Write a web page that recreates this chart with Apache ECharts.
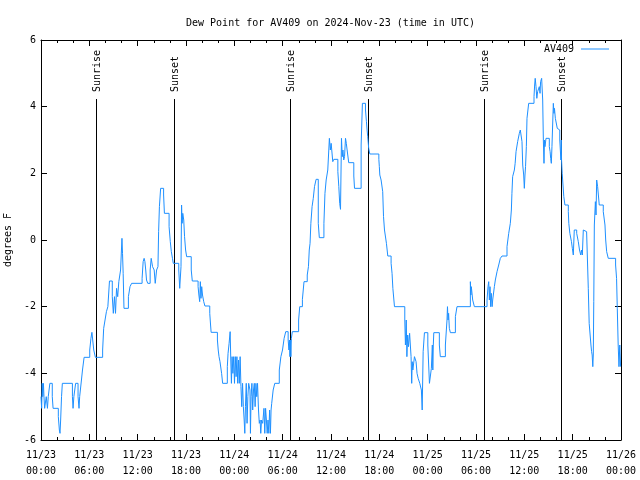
<!DOCTYPE html>
<html><head><meta charset="utf-8">
<script src="https://cdn.jsdelivr.net/npm/echarts/dist/echarts.min.js"></script>
<style>html,body{margin:0;padding:0;background:#fff}#c{width:640px;height:480px}</style>
</head><body><div id="c"></div>
<script>
const titleText = 'Dew Point for AV409 on 2024-Nov-23 (time in UTC)';
const seriesName = 'AV409';
const yAxisName = 'degrees F';
const xTickLabels = ['11/23\n00:00','11/23\n06:00','11/23\n12:00','11/23\n18:00','11/24\n00:00','11/24\n06:00','11/24\n12:00','11/24\n18:00','11/25\n00:00','11/25\n06:00','11/25\n12:00','11/25\n18:00','11/26\n00:00'];
// hours since 2024-11-23 00:00 UTC
const dewTimes = [
0.00,0.08,0.15,0.22,0.30,0.37,0.45,0.65,0.80,0.90,1.10,1.40,1.50,2.15,2.28,2.36,2.44,2.55,2.65,3.90,
3.98,4.08,4.30,4.60,4.72,4.80,5.02,5.15,5.35,6.05,6.20,6.32,6.55,6.75,7.65,7.78,7.95,8.12,8.30,8.50,
8.85,8.98,9.12,9.25,9.38,9.52,9.66,9.88,10.05,10.12,10.20,10.30,10.85,11.05,11.25,
12.55,12.68,12.80,12.90,13.00,13.10,13.25,13.55,13.68,13.85,14.05,14.18,14.35,14.52,14.60,14.70,14.85,15.22,15.32,15.90,
16.05,16.18,16.32,16.42,17.10,17.22,17.38,17.45,17.52,17.60,17.72,17.82,17.95,18.08,18.65,18.78,19.50,19.60,19.70,19.78,
19.86,19.95,20.05,20.20,20.35,20.95,21.05,21.12,21.90,22.00,22.10,22.22,22.32,22.42,22.55,23.13,23.22,23.35,23.48,23.56,
23.64,23.72,23.82,23.92,24.02,24.12,24.22,24.32,24.42,24.52,24.62,24.72,24.82,24.92,25.02,25.12,25.22,25.30,25.38,25.48,
25.58,25.68,25.78,25.94,26.00,26.08,26.18,26.28,26.38,26.48,26.58,26.68,26.78,26.88,27.00,27.10,27.20,27.28,27.38,27.52,
27.68,27.78,27.88,27.98,28.08,28.18,28.28,28.38,28.48,28.56,28.64,28.82,29.02,29.58,29.78,29.98,30.18,30.38,30.68,30.78,
30.84,30.90,30.96,31.02,31.08,31.20,31.98,32.12,32.45,32.65,33.05,33.20,33.30,33.40,33.50,33.65,33.80,33.95,34.15,34.42,
34.55,35.12,35.25,35.40,35.60,35.80,35.92,36.02,36.22,36.35,36.85,36.97,37.08,37.18,37.30,37.40,37.48,37.58,37.68,37.80,
37.90,38.00,38.20,38.83,38.92,39.74,39.90,40.28,40.40,40.48,40.56,40.68,40.82,41.94,42.00,42.06,42.22,42.42,42.52,42.64,
42.88,43.05,43.46,43.58,43.68,43.88,45.16,45.24,45.34,45.42,45.52,45.62,45.76,45.94,46.02,46.08,46.16,46.36,46.56,46.68,
46.82,47.02,47.22,47.32,47.44,47.60,48.02,48.22,48.46,48.58,48.64,48.70,48.76,49.45,49.57,50.20,50.40,50.46,50.53,50.60,
50.69,50.82,51.44,51.64,53.30,53.36,53.42,53.59,53.80,55.37,55.49,55.58,55.66,55.74,55.82,55.90,56.00,56.07,56.28,56.40,
56.61,56.82,57.02,57.23,57.85,58.06,58.26,58.39,58.46,58.55,58.76,58.86,58.97,59.17,59.38,59.50,59.71,59.80,59.92,60.00,
60.08,60.15,60.25,60.33,60.54,61.20,61.28,61.35,61.45,61.55,61.65,61.86,61.95,62.02,62.15,62.28,62.36,62.44,62.50,62.56,
62.69,63.10,63.20,63.27,63.35,63.43,63.60,63.68,63.74,63.85,64.09,64.30,64.40,64.54,64.58,64.62,64.70,64.80,64.90,65.04,
65.46,65.52,65.65,65.85,65.96,66.08,66.20,66.50,66.58,66.70,66.78,66.85,67.00,67.10,67.20,67.32,67.45,67.73,67.94,68.05,
68.27,68.35,68.42,68.50,68.56,68.62,68.69,68.82,68.90,68.98,69.10,69.18,69.30,69.80,70.01,70.10,70.22,70.42,71.33,71.45,
71.54,71.65,71.75,71.85,71.95,72.00
];
const dewValues = [
-4.7,-5.05,-4.3,-4.7,-4.3,-4.7,-5.05,-4.7,-5.05,-4.7,-4.3,-4.7,-5.05,-5.3,-5.7,-5.8,-5.4,-4.7,-4.3,-4.7,
-5.05,-4.7,-4.3,-4.7,-5.05,-4.7,-4.2,-3.9,-3.52,-3.3,-2.95,-2.77,-3.3,-3.52,-3.3,-2.65,-2.4,-2.15,-2.0,-1.23,
-1.7,-2.2,-1.7,-2.2,-1.45,-1.7,-1.25,-0.9,0.05,-0.4,-1.0,-2.05,-1.7,-1.4,-1.3,
-1.15,-0.65,-0.55,-0.65,-0.9,-1.2,-1.3,-0.9,-0.55,-0.8,-0.9,-1.3,-0.9,-0.8,0.25,1.0,1.55,1.35,0.8,0.4,
-0.05,-0.35,-0.55,-0.7,-0.9,-1.45,-0.8,1.05,0.5,0.8,0.6,0.1,-0.3,-0.5,-0.9,-1.23,-1.4,-1.65,-1.85,-1.25,
-1.75,-1.4,-1.65,-1.85,-1.98,-2.2,-2.55,-2.77,-3.0,-3.3,-3.5,-3.65,-3.7,-4.0,-4.3,-3.8,-3.4,-3.1,-2.75,-3.6,
-4.3,-3.5,-4.0,-3.5,-4.3,-3.5,-4.1,-3.5,-4.3,-3.6,-4.3,-3.5,-4.4,-5.0,-4.3,-5.0,-5.4,-5.8,-5.0,-4.3,
-5.5,-4.7,-4.3,-4.5,-5.8,-4.7,-4.3,-5.1,-4.5,-4.3,-5.0,-4.3,-4.7,-4.3,-5.1,-5.5,-5.4,-5.8,-5.4,-5.5,
-5.05,-5.8,-5.05,-5.4,-5.8,-5.4,-5.8,-5.1,-5.8,-5.1,-4.9,-4.5,-4.3,-3.9,-3.5,-3.3,-2.95,-2.75,-3.0,-3.3,
-3.0,-3.5,-3.0,-3.5,-2.95,-2.75,-2.4,-2.0,-1.78,-1.25,-1.05,-0.8,-0.3,-0.1,0.5,1.0,1.25,1.6,1.82,0.5,
0.07,0.5,1.4,1.8,2.1,3.05,2.7,2.9,2.35,2.42,2.05,1.6,1.1,0.92,3.05,2.5,2.7,2.4,2.5,3.05,
2.9,2.7,2.32,1.92,1.55,2.85,4.1,3.9,3.55,3.3,3.1,2.75,2.58,2.42,2.2,1.95,1.8,1.45,0.7,0.3,
-0.1,-0.48,-0.7,-1.0,-1.45,-2.0,-2.4,-3.15,-2.4,-3.5,-2.85,-3.2,-2.8,-3.5,-4.3,-3.65,-3.9,-3.5,-3.65,-4.0,
-4.15,-4.3,-4.5,-5.1,-3.35,-2.78,-3.15,-4.3,-3.85,-3.15,-3.9,-3.15,-2.78,-3.15,-3.5,-3.15,-2.4,-2.0,-2.4,-2.2,
-2.65,-2.78,-2.3,-2.0,-1.25,-1.65,-1.4,-1.8,-2.0,-1.8,-1.4,-1.25,-1.8,-1.4,-2.0,-1.6,-2.0,-1.8,-1.4,-1.2,
-0.95,-0.75,-0.55,-0.48,-0.2,0.2,0.5,0.9,1.4,1.9,2.1,2.3,2.65,2.95,3.2,3.3,2.95,2.25,1.95,1.55,
1.95,2.2,2.8,3.65,4.1,4.3,4.65,4.85,4.6,4.25,4.45,4.6,4.4,4.75,4.85,4.2,3.0,2.3,3.0,2.8,
3.05,2.8,2.65,2.45,2.3,2.8,4.1,3.8,3.95,3.65,3.35,3.3,3.0,2.4,3.0,2.4,2.0,1.65,1.3,1.05,
0.85,0.5,0.2,-0.05,-0.25,-0.45,0.3,0.2,0.15,-0.05,-0.1,-0.3,-0.45,-0.3,-0.45,0.3,0.25,0.2,-1.45,-2.5,
-3.15,-3.35,-3.45,-3.8,-3.45,-1.85,0.45,1.15,0.75,1.8,1.6,1.55,1.05,0.85,0.45,0.0,-0.35,-0.55,-0.75,-1.15,
-2.05,-3.15,-3.8,-3.15,-3.8,-3.8
];
const sunTimes = [6.88, 16.55, 30.95, 40.65, 55.03, 64.59];
const sunLabels = ['Sunrise','Sunset','Sunrise','Sunset','Sunrise','Sunset'];

const FONT = '"DejaVu Sans Mono", monospace';
const LINE_COLOR = '#1e90ff';
const chart = echarts.init(document.getElementById('c'), null, {renderer: 'canvas'});
const dewData = dewTimes.map((t, i) => [t, dewValues[i]]);
const xBase = {
  type: 'value', min: 0, max: 72, interval: 6,
  axisLine: {show: true, onZero: false, lineStyle: {color: '#000', width: 1}},
  axisTick: {show: true, inside: true, length: 6, lineStyle: {color: '#000'}},
  minorTick: {show: true, splitNumber: 3, length: 3, lineStyle: {color: '#000'}},
  splitLine: {show: false}
};
const yBase = {
  type: 'value', min: -6, max: 6, interval: 2,
  axisLine: {show: true, onZero: false, lineStyle: {color: '#000', width: 1}},
  axisTick: {show: true, inside: true, length: 6, lineStyle: {color: '#000'}},
  splitLine: {show: false}
};
chart.setOption({
  animation: false,
  backgroundColor: '#fff',
  title: {
    text: titleText, left: 181, top: 13,
    textStyle: {fontFamily: FONT, fontSize: 10, fontWeight: 'normal', color: '#000'}
  },
  legend: {
    data: [{name: seriesName, icon: 'rect', itemStyle: {color: LINE_COLOR}}],
    right: 31, top: 44, align: 'right',
    itemWidth: 28, itemHeight: 1, padding: 0, itemGap: 0,
    textStyle: {fontFamily: FONT, fontSize: 10, color: '#000', padding: [0, 2, 0, 0]}
  },
  grid: {left: 41, right: 19, top: 40, bottom: 40, containLabel: false, outerBoundsMode: 'none'},
  xAxis: [
    Object.assign({}, xBase, {
      position: 'bottom',
      axisLabel: {
        show: true, margin: 7, color: '#000', fontFamily: FONT, fontSize: 10, lineHeight: 16,
        formatter: v => xTickLabels[Math.round(v / 6)] || ''
      }
    }),
    Object.assign({}, xBase, {position: 'top', axisLabel: {show: false}})
  ],
  yAxis: [
    Object.assign({}, yBase, {
      position: 'left',
      name: yAxisName, nameLocation: 'middle', nameGap: 25, nameRotate: 90,
      nameTextStyle: {fontFamily: FONT, fontSize: 10, color: '#000'},
      axisLabel: {show: true, margin: 5, color: '#000', fontFamily: FONT, fontSize: 10}
    }),
    Object.assign({}, yBase, {position: 'right', axisLabel: {show: false}})
  ],
  series: [
    {
      type: 'custom',
      name: 'sun',
      xAxisIndex: 0, yAxisIndex: 0,
      z: 1,
      clip: false,
      silent: true,
      data: sunTimes.map(t => [t, -6]),
      encode: {x: 0, y: 1},
      renderItem: function (params, api) {
        const p = api.coord([api.value(0), api.value(1)]);
        const x = Math.floor(p[0]) + 0.5;
        const yBottom = p[1];
        const yTop = params.coordSys.y + 59;
        return {
          type: 'group',
          children: [
            {type: 'line', shape: {x1: x, y1: yTop, x2: x, y2: yBottom},
              style: {stroke: '#000', lineWidth: 1}},
            {type: 'text', x: x + 1, y: yTop - 7, rotation: Math.PI / 2,
              style: {text: sunLabels[params.dataIndex], fill: '#000',
                fontFamily: 'DejaVu Sans Mono', fontSize: 10,
                align: 'left', verticalAlign: 'middle'}}
          ]
        };
      }
    },
    {
      type: 'line',
      name: seriesName,
      xAxisIndex: 0, yAxisIndex: 0,
      z: 3,
      data: dewData,
      step: 'end',
      symbol: 'none',
      showSymbol: false,
      lineStyle: {color: LINE_COLOR, width: 1},
      itemStyle: {color: LINE_COLOR}
    }
  ]
});
</script>
</body></html>
